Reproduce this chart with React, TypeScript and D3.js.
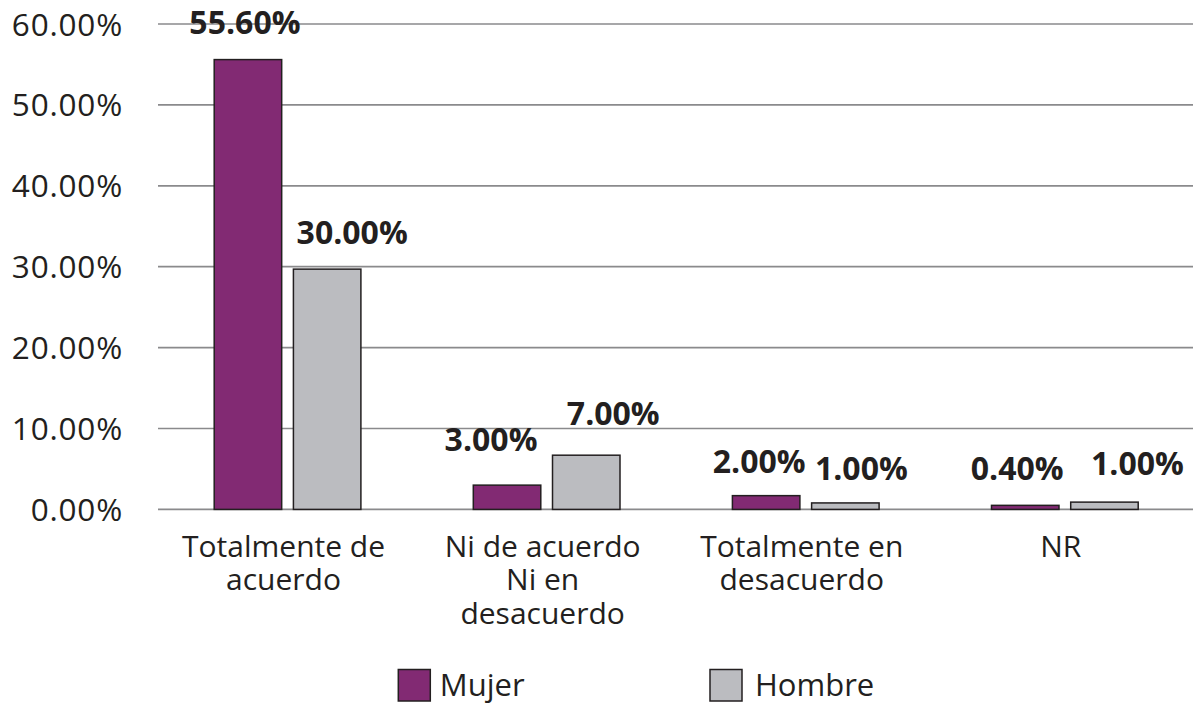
import React, { useEffect, useRef } from "react";
import * as d3 from "d3";

const categories: string[][] = [
  ["Totalmente de", "acuerdo"],
  ["Ni de acuerdo", "Ni en", "desacuerdo"],
  ["Totalmente en", "desacuerdo"],
  ["NR"],
];
const seriesNames = ["Mujer", "Hombre"];
const mujerValues = [55.6, 3.0, 1.7, 0.5];
const hombreValues = [29.7, 6.7, 0.8, 0.9];
const mujerLabels = ["55.60%", "3.00%", "2.00%", "0.40%"];
const hombreLabels = ["30.00%", "7.00%", "1.00%", "1.00%"];
const yTicks = [0, 10, 20, 30, 40, 50, 60];

// label nudges (dx from bar centre, dy from bar top to text baseline)
const mujerLabelNudge = [[-3, -26], [-16, -34], [-7, -23], [-8, -25]];
const hombreLabelNudge = [[25, -25], [27, -30], [16, -23], [33, -27]];

const COLORS = ["#822a73", "#bbbcc0"];
const INK = "#231f20";
const FONT = "'Open Sans', 'Noto Sans', sans-serif";

export default function App() {
  const ref = useRef<SVGSVGElement>(null);

  useEffect(() => {
    const svg = d3.select(ref.current);
    svg.selectAll("*").remove();
    const W = 1193;
    const left = 158, right = 1194.4;
    const y = d3.scaleLinear().domain([0, 60]).range([509.4, 24]);
    const x0 = d3.scaleBand<number>().domain(d3.range(categories.length)).range([left, right]);
    const x1 = d3.scaleBand<string>().domain(seriesNames).range([56.2, 202.9]).paddingInner(0.148);

    // gridlines
    svg.append("g").selectAll("line").data(yTicks).join("line")
      .attr("x1", left).attr("x2", W)
      .attr("y1", d => y(d)).attr("y2", d => y(d))
      .attr("stroke", "#8a8a8c").attr("stroke-width", 1.7);

    // tick labels
    svg.append("g").selectAll("text").data(yTicks).join("text")
      .attr("x", 123).attr("y", d => y(d) + 11.5)
      .attr("text-anchor", "end")
      .attr("font-family", FONT).attr("font-size", 31.5).attr("letter-spacing", 0.8)
      .attr("fill", INK)
      .text(d => d3.format(".2f")(d) + "%");

    const series = [
      { name: seriesNames[0], values: mujerValues, labels: mujerLabels, nudge: mujerLabelNudge, color: COLORS[0] },
      { name: seriesNames[1], values: hombreValues, labels: hombreLabels, nudge: hombreLabelNudge, color: COLORS[1] },
    ];

    series.forEach(s => {
      const g = svg.append("g");
      g.selectAll("rect").data(s.values).join("rect")
        .attr("x", (_, i) => (x0(i) as number) + (x1(s.name) as number))
        .attr("y", d => y(d))
        .attr("width", x1.bandwidth())
        .attr("height", d => y(0) - y(d))
        .attr("fill", s.color).attr("stroke", INK).attr("stroke-width", 1.5);
      g.selectAll("text").data(s.values).join("text")
        .attr("x", (_, i) => (x0(i) as number) + (x1(s.name) as number) + x1.bandwidth() / 2 + s.nudge[i][0])
        .attr("y", (d, i) => y(d) + s.nudge[i][1])
        .attr("text-anchor", "middle")
        .attr("font-family", FONT).attr("font-weight", 700).attr("font-size", 32)
        .attr("fill", INK)
        .text((_, i) => s.labels[i]);
    });

    // category labels
    const cg = svg.append("g");
    categories.forEach((lines, i) => {
      const cx = (x0(i) as number) + x0.bandwidth() / 2 - 4;
      lines.forEach((ln, j) => {
        cg.append("text")
          .attr("x", cx).attr("y", 556.7 + j * 33.5)
          .attr("text-anchor", "middle")
          .attr("font-family", FONT).attr("font-size", 30).attr("fill", INK)
          .text(ln);
      });
    });

    // legend
    const legX = [398.3, 710];
    const lg = svg.append("g");
    seriesNames.forEach((n, i) => {
      lg.append("rect").attr("x", legX[i]).attr("y", 669.5).attr("width", 32).attr("height", 31.5)
        .attr("fill", COLORS[i]).attr("stroke", INK).attr("stroke-width", 1.5);
      lg.append("text").attr("x", legX[i] + 41.5 + i * 3.5).attr("y", 695.5)
        .attr("font-family", FONT).attr("font-size", 31).attr("fill", INK).text(n);
    });
  }, []);

  return (
    <svg ref={ref} width={1193} height={704}
      style={{ position: "absolute", left: 0, top: 0, background: "#fff", display: "block" }} />
  );
}
